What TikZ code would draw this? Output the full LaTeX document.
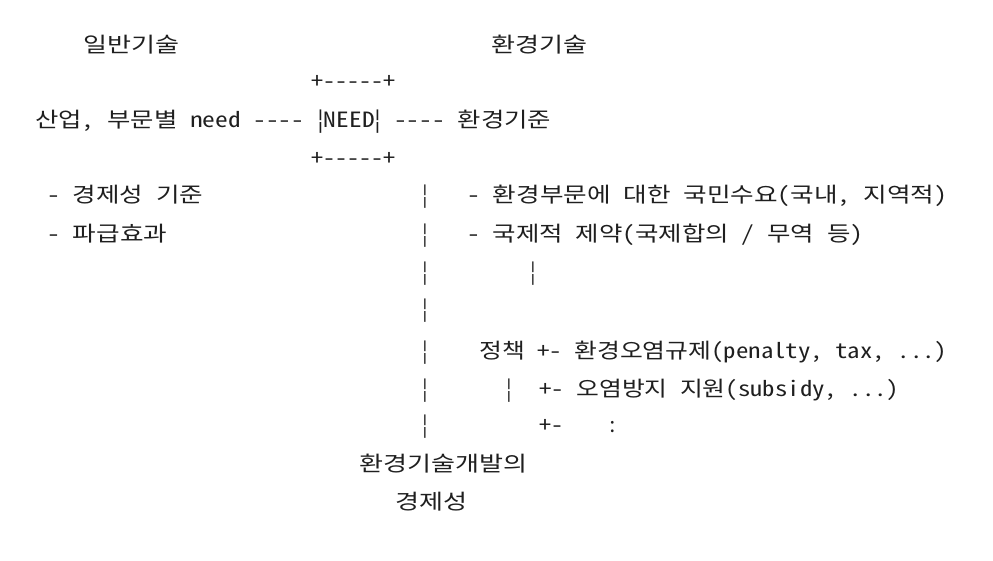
\documentclass[tikz,border=0pt]{standalone}
\usepackage{fontspec}
\newfontfamily\krfont[RawFeature=+hwid]{Noto Sans CJK KR}
\newcommand\krtext{\krfont\fontsize{21}{21}\selectfont
  \fontdimen2\font=0.5em\relax\fontdimen3\font=0pt\relax\fontdimen4\font=0pt\relax}
\newlength\colw
\setlength\colw{12pt}
% stretch a run of text to a whole number of text columns
\newcommand\cols[2]{\resizebox{#1\colw}{\height}{#2}}
% one character centred in one column
\newcommand\onecol[1]{\makebox[\colw]{#1}}
\tikzset{
  txt/.style={anchor=base west,inner sep=0pt,text=black!88,font=\krtext},
}

\begin{document}
\begin{tikzpicture}[x=1pt,y=1pt,yscale=-1]
    \useasboundingbox (0,0) rectangle (993,560);

    % headings
    \node[txt] (gentech) at (83,52) {\cols{8}{일반기술}};
    \node[txt] (envtech) at (491,52) {\cols{8}{환경기술}};

    % NEED box
    \node[txt] (boxtop) at (311,88) {\cols{7}{+-----+}};
    \node[txt] (needline) at (35,127) {\cols{43}{산업, 부문별 need ---- ¦NEED¦ ---- 환경기준}};
    \node[txt] (boxbot) at (311,165) {\cols{7}{+-----+}};

    % left column
    \node[txt] (econ) at (47,202) {\cols{13}{- 경제성 기준}};
    \node[txt] (spill) at (47,241) {\cols{10}{- 파급효과}};

    % vertical bar
    \node[txt] (bar1) at (419,202) {\onecol{¦}};
    \node[txt] (bar2) at (419,241) {\onecol{¦}};
    \node[txt] (bar3) at (419,279) {\onecol{¦}};
    \node[txt] (bar4) at (419,316) {\onecol{¦}};
    \node[txt] (bar5) at (419,358) {\onecol{¦}};
    \node[txt] (bar6) at (419,396) {\onecol{¦}};
    \node[txt] (bar7) at (419,432) {\onecol{¦}};

    % right column
    \node[txt] (demand) at (467,202) {\cols{40}{- 환경부문에 대한 국민수요(국내, 지역적)}};
    \node[txt] (intl) at (467,241) {\cols{33}{- 국제적 제약(국제합의 / 무역 등)}};
    \node[txt] (intlbar) at (527,279) {\onecol{¦}};
    \node[txt] (policy) at (479,358) {\cols{39}{정책 +- 환경오염규제(penalty, tax, ...)}};
    \node[txt] (policybar) at (503,396) {\onecol{¦}};
    \node[txt] (subsidy) at (539,396) {\cols{30}{+- 오염방지 지원(subsidy, ...)}};
    \node[txt] (more) at (539,432) {\cols{2}{+-}};
    \node[txt] (moredots) at (607,432) {\onecol{:}};

    % result
    \node[txt] (result1) at (359,471) {\cols{14}{환경기술개발의}};
    \node[txt] (result2) at (395,509) {\cols{6}{경제성}};
\end{tikzpicture}
\end{document}
